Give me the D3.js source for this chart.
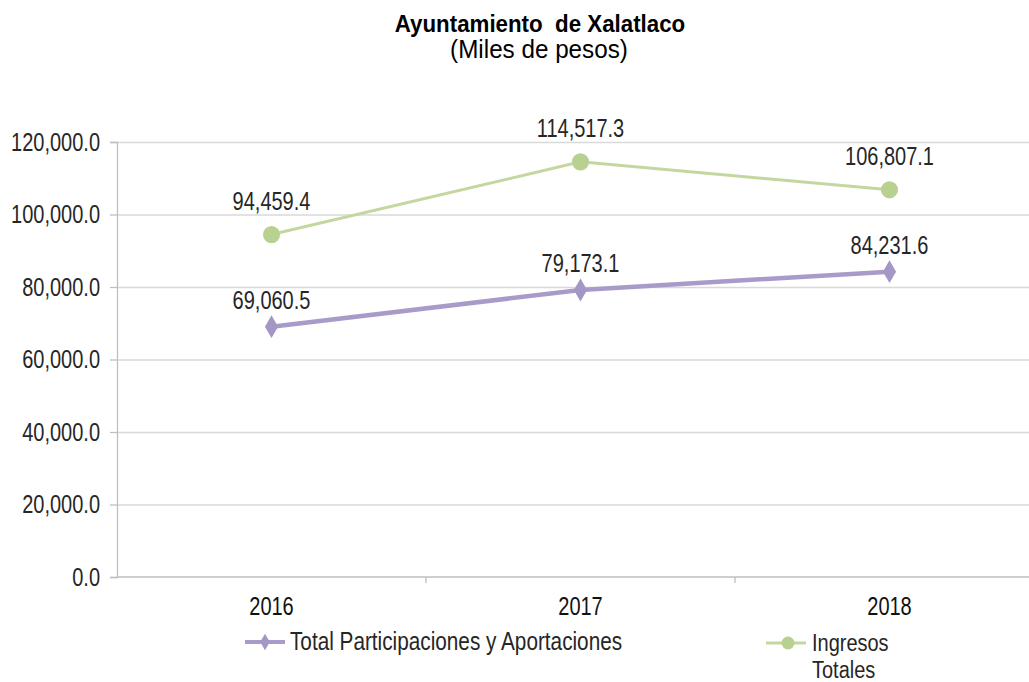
<!DOCTYPE html>
<html lang="es">
<head>
    <meta charset="UTF-8">
    <title>Ayuntamiento de Xalatlaco</title>
    <script src="https://d3js.org/d3.v7.min.js"></script>
    <style>
        body { margin: 0; background: #fff; }
        svg text { font-family: "Liberation Sans", Arial, sans-serif; font-size: 25px; fill: #262626; }
        .grid line { stroke: #d9d9d9; stroke-width: 1.3; }
        .grid path { display: none; }
        .axis path, .axis line { stroke: #bfbfbf; stroke-width: 1.3; }
    </style>
</head>
<body>
    <svg id="chart" width="1029" height="682"></svg>

    <script>
        const years = ["2016", "2017", "2018"];
        const participaciones = [69060.5, 79173.1, 84231.6];
        const ingresos = [94459.4, 114517.3, 106807.1];
        const yTicks = [0, 20000, 40000, 60000, 80000, 100000, 120000];

        const svg = d3.select("#chart");
        const mLeft = 117, mRight = 1044, mTop = 142, mBottom = 577;
        const fmt = d3.format(",.1f");

        // letra estrecha (tipo Arial Narrow): se comprime en horizontal
        function narrow(sel, k = 0.8) {
            sel.each(function() {
                const t = d3.select(this);
                const x0 = +t.attr("x") || 0;
                t.attr("transform", `translate(${x0},0) scale(${k},1) translate(${-x0},0)`);
            });
        }

        const x = d3.scaleBand().domain(years).range([mLeft, mRight]);
        const y = d3.scaleLinear().domain([0, 120000]).range([mBottom, mTop]);
        const cx = d => x(d) + x.bandwidth() / 2;

        // titulo
        svg.append("text").attr("x", 540).attr("y", 32).attr("text-anchor", "middle")
            .style("font-size", "24px").style("font-weight", "bold").style("fill", "#000")
            .style("white-space", "pre")
            .text("Ayuntamiento  de Xalatlaco").call(narrow, 0.93);
        svg.append("text").attr("x", 539).attr("y", 58).attr("text-anchor", "middle")
            .style("fill", "#000")
            .text("(Miles de pesos)").call(narrow, 0.97);

        // rejilla
        svg.append("g").attr("class", "grid")
            .attr("transform", `translate(${mLeft},0)`)
            .call(d3.axisRight(y).tickValues(yTicks.filter(d => d > 0)).tickSize(1029 - mLeft).tickFormat(""));

        // eje y
        const gy = svg.append("g").attr("class", "axis")
            .attr("transform", `translate(${mLeft},0)`)
            .call(d3.axisLeft(y).tickValues(yTicks).tickSize(7).tickPadding(10).tickFormat(fmt));
        gy.selectAll("text").call(narrow);

        // eje x
        const gx = svg.append("g").attr("class", "axis")
            .attr("transform", `translate(0,${mBottom})`)
            .call(d3.axisBottom(x).tickSize(0).tickPadding(20));
        gx.select("path").attr("d", `M${mLeft},0H1029`);
        gx.selectAll("text").style("fill", "#111").call(narrow);
        gx.selectAll(".sep").data(years.slice(1)).enter().append("line")
            .attr("class", "sep")
            .attr("x1", d => x(d)).attr("x2", d => x(d))
            .attr("y1", 0).attr("y2", 6);

        const series = [
            {name: "Total Participaciones y Aportaciones", values: participaciones, color: "#a89bc9", fill: "#a497c6", width: 4.5, shape: d3.symbolDiamond, size: 150, off: -18},
            {name: "Ingresos Totales", values: ingresos, color: "#c4d79f", fill: "#b8d190", width: 3, shape: d3.symbolCircle, size: 230, off: -25}
        ];

        series.forEach(s => {
            const pts = years.map((yr, i) => [cx(yr), y(s.values[i]), s.values[i]]);
            svg.append("path").datum(pts)
                .attr("fill", "none").attr("stroke", s.color).attr("stroke-width", s.width)
                .attr("d", d3.line());
            svg.selectAll(null).data(pts).enter().append("path")
                .attr("transform", d => `translate(${d[0]},${d[1]})`)
                .attr("d", d3.symbol(s.shape, s.size))
                .attr("fill", s.fill);
            svg.selectAll(null).data(pts).enter().append("text")
                .attr("x", d => d[0]).attr("y", d => d[1] + s.off)
                .attr("text-anchor", "middle")
                .text(d => fmt(d[2])).call(narrow);
        });

        // leyenda
        const lg1 = svg.append("g").attr("transform", "translate(245,642)");
        lg1.append("line").attr("x1", 0).attr("x2", 40).attr("stroke", series[0].color).attr("stroke-width", 4);
        lg1.append("path").attr("transform", "translate(20,0)").attr("d", d3.symbol(d3.symbolDiamond, 80)).attr("fill", series[0].fill);
        lg1.append("text").attr("x", 45).attr("y", 8).text(series[0].name).call(narrow, 0.83);

        const lg2 = svg.append("g").attr("transform", "translate(766,643)");
        lg2.append("line").attr("x1", 0).attr("x2", 40).attr("stroke", series[1].color).attr("stroke-width", 3);
        lg2.append("circle").attr("cx", 22).attr("r", 6.5).attr("fill", series[1].fill);
        lg2.selectAll(null).data(["Ingresos", "Totales"]).enter().append("text")
            .attr("x", 46).attr("y", (d, i) => 8 + i * 27)
            .style("font-size", "23.5px")
            .text(d => d).call(narrow, 0.85);
    </script>
</body>
</html>
